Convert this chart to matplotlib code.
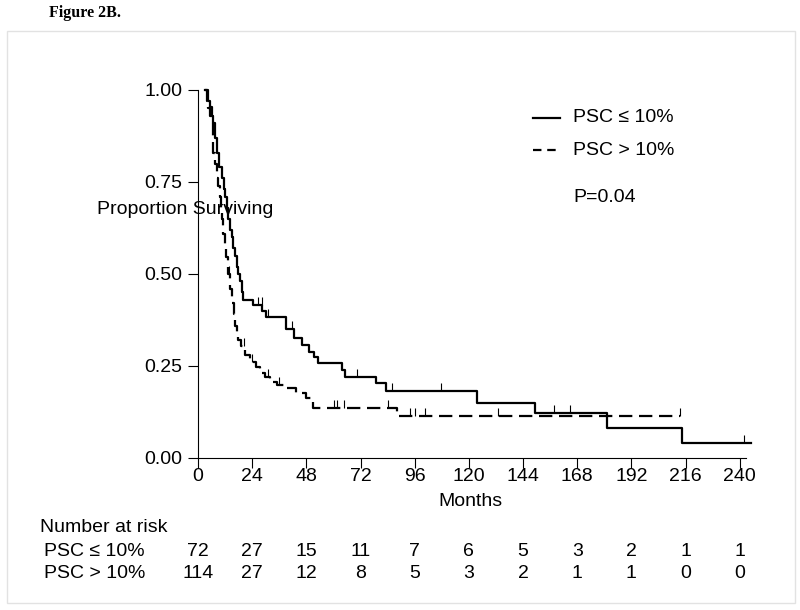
'''Kaplan-Meier curves, Figure 2B'''

import numpy as np
import matplotlib
matplotlib.use("Agg")
import matplotlib.pyplot as plt
from matplotlib.lines import Line2D
from matplotlib.patches import Rectangle
import matplotlib.transforms as mtransforms

plt.rcParams['font.family'] = ['Liberation Sans', 'DejaVu Sans']

#Data
le_label = "PSC \u2264 10%"
le_times = [3.1, 4.5, 5.3, 6.0, 6.8, 7.5, 8.3, 9.5, 10.5, 11.3, 12.0, 12.7, 13.4, 14.2,
            15.0, 15.7, 16.4, 17.1, 17.8, 18.6, 19.3, 20.0, 24.2, 28.5, 30.0, 39.2,
            42.5, 46.0, 49.0, 51.5, 53.0, 63.6, 65.0, 79.0, 83.2, 123.5, 149.4, 181.0, 214.4]
le_surv = [1.0, 0.97, 0.955, 0.93, 0.91, 0.87, 0.83, 0.79, 0.76, 0.73, 0.71, 0.68, 0.65, 0.62,
           0.60, 0.57, 0.55, 0.52, 0.50, 0.48, 0.45, 0.43, 0.416, 0.40, 0.382, 0.35,
           0.325, 0.307, 0.289, 0.275, 0.259, 0.239, 0.221, 0.203, 0.182, 0.150, 0.121, 0.082, 0.040]
le_last = 245.0
le_censor = [26.7, 28.2, 31.1, 41.5, 70.5, 86.1, 107.8, 157.5, 164.6, 242.0]

gt_label = "PSC > 10%"
gt_times = [3.1, 4.0, 4.6, 5.4, 6.1, 6.5, 6.8, 7.5, 8.3, 9.0, 9.7, 10.1, 10.5, 11.2, 11.8,
            12.4, 13.4, 14.2, 15.0, 15.8, 16.6, 17.4, 17.8, 19.0, 21.0, 23.0, 25.5, 27.5,
            29.5, 32.0, 35.0, 38.5, 43.5, 48.0, 51.0, 88.0]
gt_surv = [1.0, 0.97, 0.95, 0.93, 0.91, 0.87, 0.83, 0.80, 0.76, 0.74, 0.71, 0.68, 0.65, 0.61, 0.58,
           0.545, 0.50, 0.46, 0.42, 0.39, 0.36, 0.335, 0.32, 0.305, 0.28, 0.26, 0.248, 0.23,
           0.221, 0.207, 0.198, 0.189, 0.176, 0.162, 0.135, 0.115]
gt_last = 213.7
gt_censor = [13.6, 20.5, 24.0, 31.0, 36.0, 60.3, 61.4, 64.7, 84.2, 94.0, 96.0, 100.7, 133.0, 213.7]

risk_times = [0, 24, 48, 72, 96, 120, 144, 168, 192, 216, 240]
risk_le = [72, 27, 15, 11, 7, 6, 5, 3, 2, 1, 1]
risk_gt = [114, 27, 12, 8, 5, 3, 2, 1, 1, 0, 0]

p_text = "P=0.04"


def StepValue(times, surv, t):
    '''Survival at time t from step data'''
    idx = np.searchsorted(times, t, side='right') - 1
    return surv[max(idx, 0)]


def DrawCurve(ax, times, surv, last, censor, **kw):
    '''Step curve with censor ticks'''
    x = list(times) + [last]
    y = list(surv) + [surv[-1]]
    ax.step(x, y, where='post', color='black', clip_on=False, **kw)
    cy = [StepValue(times, surv, t) for t in censor]
    ax.vlines(censor, cy, np.array(cy) + 0.022, color='black', linewidth=0.8, clip_on=False)


fig = plt.figure(figsize=(8, 6.1), dpi=100)
fig.patches.append(Rectangle((7 / 800, 7 / 610), 788 / 800, 572 / 610, transform=fig.transFigure,
                             fill=False, edgecolor='#e2e2e2', linewidth=1))
ax = fig.add_axes([198 / 800, 152 / 610, 553 / 800, 368 / 610])

DrawCurve(ax, le_times, le_surv, le_last, le_censor, linewidth=1.6)
DrawCurve(ax, gt_times, gt_surv, gt_last, gt_censor, linewidth=1.6, dashes=(6, 3))

ax.set_xlim(0, 245)
ax.set_ylim(0, 1)
ax.set_xticks(risk_times)
ax.set_yticks([0, 0.25, 0.5, 0.75, 1.0])
ax.set_yticklabels(["0.00", "0.25", "0.50", "0.75", "1.00"])
ax.tick_params(labelsize=14, length=7, width=0.8, colors='black')
ax.tick_params(axis='x', pad=0)
ax.tick_params(axis='y', pad=4)
for side in ['top', 'right']:
    ax.spines[side].set_visible(False)
ax.spines['bottom'].set_bounds(0, 242.8)
ax.spines['left'].set_linewidth(0.8)
ax.spines['bottom'].set_linewidth(0.8)

fig.text(470 / 800, 1 - 501 / 610, "Months", fontsize=14, ha='center', va='center')
fig.text(97 / 800, 1 - 210 / 610, "Proportion Surviving", fontsize=14, ha='left', va='center')
fig.text(49 / 800, 1 - 13 / 610, "Figure 2B.", fontsize=11.5, fontweight='bold',
         family=['Liberation Serif', 'DejaVu Serif'], ha='left', va='center')

#Legend
fig.add_artist(Line2D([533 / 800, 560 / 800], [1 - 118 / 610] * 2, color='black', linewidth=1.6))
fig.add_artist(Line2D([533 / 800, 560 / 800], [1 - 150 / 610] * 2, color='black', linewidth=1.6,
                      dashes=(3.8, 2.6)))
fig.text(573 / 800, 1 - 118 / 610, le_label, fontsize=14, ha='left', va='center')
fig.text(573 / 800, 1 - 150 / 610, gt_label, fontsize=14, ha='left', va='center')
fig.text(573 / 800, 1 - 198 / 610, p_text, fontsize=14, ha='left', va='center')

#Number at risk table
trans = mtransforms.blended_transform_factory(ax.transData, fig.transFigure)
fig.text(40 / 800, 1 - 527 / 610, "Number at risk", fontsize=14, ha='left', va='center')
fig.text(44 / 800, 1 - 552 / 610, le_label, fontsize=14, ha='left', va='center')
fig.text(44 / 800, 1 - 574 / 610, gt_label, fontsize=14, ha='left', va='center')
for t, a, b in zip(risk_times, risk_le, risk_gt):
    ax.text(t, 1 - 552 / 610, str(a), transform=trans, fontsize=14, ha='center', va='center')
    ax.text(t, 1 - 574 / 610, str(b), transform=trans, fontsize=14, ha='center', va='center')

fig.savefig("out.png", dpi=100)
